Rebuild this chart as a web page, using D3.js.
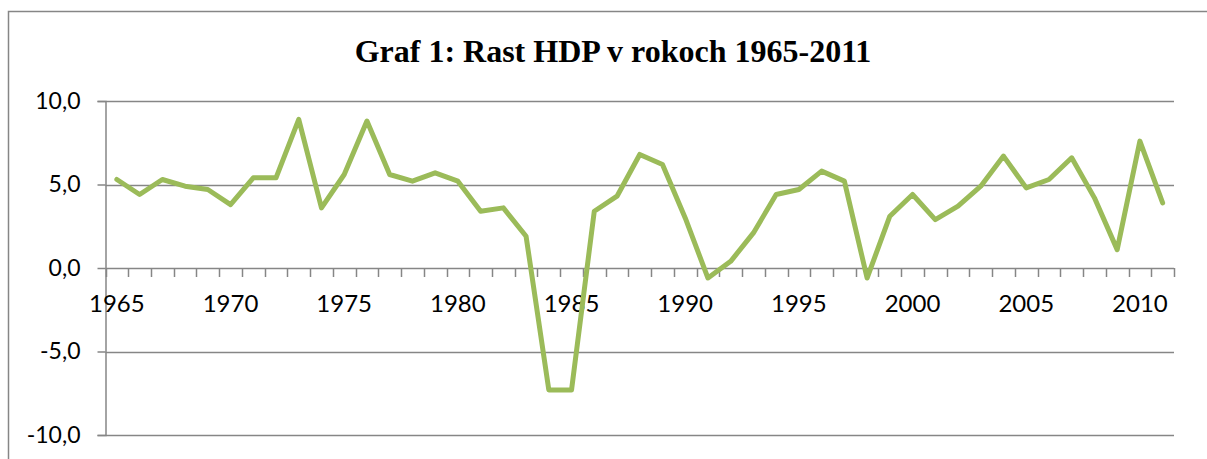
<!DOCTYPE html>
<html>
<head>
<meta charset="utf-8">
<script src="https://cdn.jsdelivr.net/npm/d3@7.9.0/dist/d3.min.js"></script>
<style>
  html, body { margin: 0; padding: 0; background: #fff; }
  svg { display: block; }
</style>
</head>
<body>
<svg id="chart" width="1207" height="459"></svg>
<script>
const years = d3.range(1965, 2012).map(String);
const growth = [
  5.3, 4.4, 5.3, 4.9, 4.7, 3.8, 5.4, 5.4, 8.9, 3.6,
  5.6, 8.8, 5.6, 5.2, 5.7, 5.2, 3.4, 3.6, 1.9, -7.3,
  -7.3, 3.4, 4.3, 6.8, 6.2, 3.0, -0.6, 0.4, 2.1, 4.4,
  4.7, 5.8, 5.2, -0.6, 3.1, 4.4, 2.9, 3.7, 4.9, 6.7,
  4.8, 5.3, 6.6, 4.2, 1.1, 7.6, 3.9
];
const yTicks = [-10, -5, 0, 5, 10];
const xLabels = ['1965', '1970', '1975', '1980', '1985', '1990', '1995', '2000', '2005', '2010'];
const title = 'Graf 1: Rast HDP v rokoch 1965-2011';

const svg = d3.select('#chart');
const axisColor = '#868686';
const labelFont = 'Lato, "Open Sans", sans-serif';

// outer chart frame
svg.append('path')
  .attr('d', 'M8.5,459 V11.5 H1207')
  .attr('fill', 'none')
  .attr('stroke', axisColor)
  .attr('stroke-width', 1.5);

svg.append('text')
  .attr('x', 613)
  .attr('y', 62)
  .attr('text-anchor', 'middle')
  .attr('font-family', '"Liberation Serif", "Times New Roman", serif')
  .attr('font-weight', 'bold')
  .attr('font-size', 32)
  .attr('fill', '#000')
  .text(title);

const x = d3.scaleBand().domain(years).range([105.5, 1174]);
const y = d3.scaleLinear().domain([-10, 10]).range([435, 101]);

// horizontal gridlines + y axis
const yAxis = d3.axisLeft(y)
  .tickValues(yTicks)
  .tickSize(8)
  .tickPadding(17)
  .tickFormat((d) => d3.format('.1f')(d).replace('.', ',').replace('−', '-'));

const gy = svg.append('g').attr('transform', 'translate(105.5,0)').call(yAxis);
gy.select('.domain').attr('stroke', axisColor).attr('stroke-width', 1.5);
gy.selectAll('.tick line').attr('stroke', axisColor).attr('stroke-width', 1.5);
gy.selectAll('.tick text')
  .attr('font-family', labelFont)
  .attr('font-size', 23)
  .attr('fill', '#000');

svg.append('g')
  .selectAll('line')
  .data(yTicks.filter((d) => d !== 0))
  .join('line')
  .attr('x1', 105.5)
  .attr('x2', 1174)
  .attr('y1', (d) => Math.round(y(d)) + 0.5)
  .attr('y2', (d) => Math.round(y(d)) + 0.5)
  .attr('stroke', axisColor)
  .attr('stroke-width', 1.5);

// category axis at zero, ticks between categories
const boundaries = years.map((d) => x(d)).concat([x.range()[1]]);
const gx = svg.append('g');
gx.append('line')
  .attr('x1', 105.5).attr('x2', 1174)
  .attr('y1', y(0) + 0.5).attr('y2', y(0) + 0.5)
  .attr('stroke', axisColor).attr('stroke-width', 1.5);
gx.selectAll('line.tk')
  .data(boundaries)
  .join('line')
  .attr('class', 'tk')
  .attr('x1', (d) => Math.round(d) + 0.5)
  .attr('x2', (d) => Math.round(d) + 0.5)
  .attr('y1', y(0))
  .attr('y2', y(0) + 9)
  .attr('stroke', axisColor)
  .attr('stroke-width', 1.5);
gx.selectAll('text')
  .data(xLabels)
  .join('text')
  .attr('x', (d) => x(d) + x.bandwidth() / 2)
  .attr('y', 312)
  .attr('text-anchor', 'middle')
  .attr('font-family', labelFont)
  .attr('font-size', 24)
  .attr('fill', '#000')
  .text((d) => d);

// data line
const line = d3.line()
  .x((d, i) => x(years[i]) + x.bandwidth() / 2)
  .y((d) => y(d));

svg.append('path')
  .datum(growth)
  .attr('d', line)
  .attr('fill', 'none')
  .attr('stroke', '#9BBB59')
  .attr('stroke-width', 5)
  .attr('stroke-linejoin', 'round')
  .attr('stroke-linecap', 'round');
</script>
</body>
</html>
